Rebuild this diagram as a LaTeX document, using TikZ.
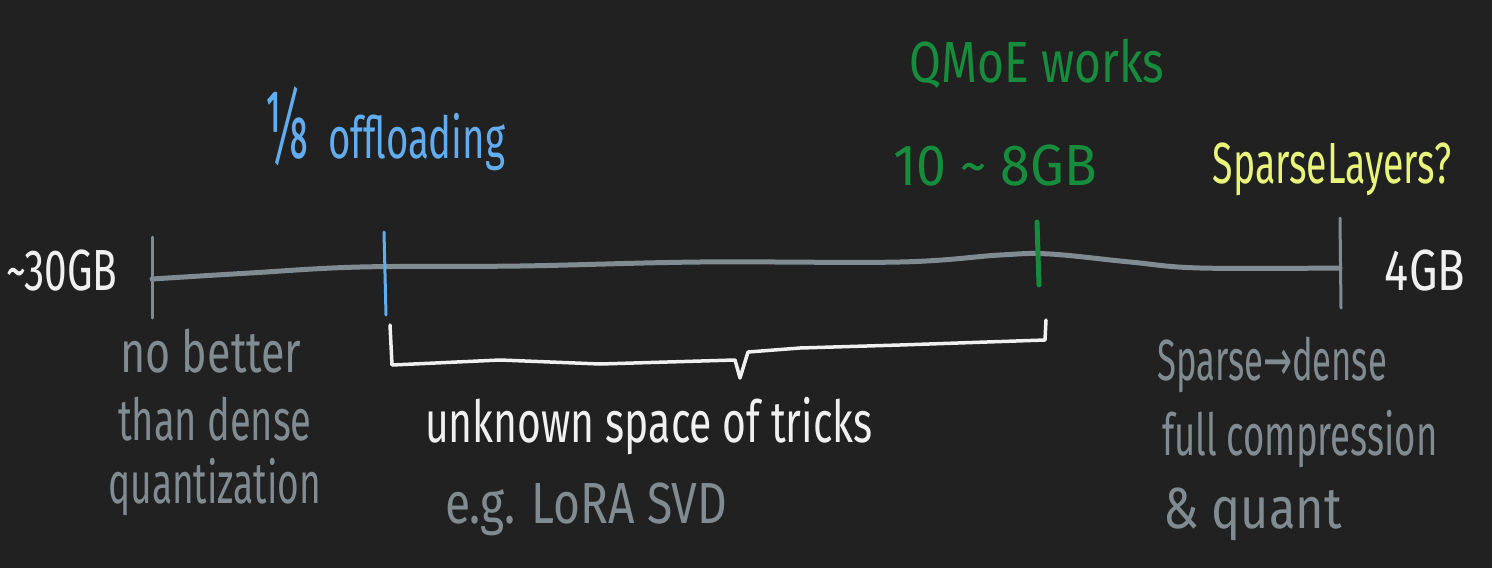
\documentclass[tikz,border=0pt]{standalone}
\usepackage{graphicx}
\usepackage{fontspec}
\setmainfont{Fira Sans}[FakeStretch=0.78]
\newfontfamily\djv{DejaVu Sans}[FakeStretch=0.78]
\newfontfamily\fracfont{Fira Sans}[Fractions=On]
\definecolor{bg}{RGB}{33,33,33}
\definecolor{axis}{RGB}{128,140,146}
\definecolor{hblue}{RGB}{98,172,240}
\definecolor{hgreen}{RGB}{22,140,60}
\definecolor{hyellow}{RGB}{232,244,122}
\definecolor{hwhite}{RGB}{240,240,240}
\newcommand{\hs}[3][1.45]{\scalebox{#2}[#1]{#3}}
\newcommand{\tld}{\textasciitilde}
\tikzset{
  hand/.style={inner sep=0pt, font=\fontsize{40}{66}\selectfont},
  tick/.style={line width=3pt, line cap=round},
  axisline/.style={draw=axis, line width=5pt, line cap=round, line join=round},
}
\begin{document}
\begin{tikzpicture}[x=1pt,y=-1pt]
\fill[bg] (0,0) rectangle (1492,568);
\useasboundingbox (0,0) rectangle (1492,568);
% tick ends
\coordinate (t0a) at (152,237); \coordinate (t0b) at (152,318);
\coordinate (t1a) at (384,232); \coordinate (t1b) at (386,315);
\coordinate (t2a) at (1037,222); \coordinate (t2b) at (1039,285);
\coordinate (t3a) at (1340,218); \coordinate (t3b) at (1341,308);
\coordinate (L) at (152,279);
\coordinate (R) at (1340,268);
% axis
\draw[axisline] plot[smooth, tension=0.6] coordinates {(L) (250,273) (360,267) (520,266) (700,262) (900,262) (1000,255) (1050,254) (1130,262) (1200,268) (R)};
\draw[tick, axis] (t0a) -- (t0b);
\draw[tick, axis] (t3a) -- (t3b);
\draw[tick, hblue] (t1a) -- (t1b);
\draw[tick, hgreen, line width=5pt] (t2a) -- (t2b);
% brace
\coordinate (b0) at (390,325);
\coordinate (b1) at (1046,320);
\coordinate (bt) at (740,378);
\draw[hwhite, line width=3.5pt, line cap=round, line join=round]
  (b0) -- (392,365) -- (500,360) -- (600,364) -- (735,360) -- (bt) -- (748,352) -- (800,348) -- (900,345) -- (1045,340) -- (b1);
% labels
\node[hand, text=hwhite, anchor=base] (big) at (62,290) {\hs{1.3}{\tld30GB}};
\node[hand, text=hwhite, anchor=base] (small) at (1425,290) {\hs{1.45}{4GB}};
\node[hand, text=hblue, anchor=base west] (frac) at (264,158) {\hs[2.4]{1.2}{\fracfont 1/8}};
\node[hand, text=hblue, anchor=base west] (off) at (328,158) {\hs{1.23}{offloading}};
\node[hand, text=hgreen, anchor=base] (qmoe) at (1037,82) {\hs{1.48}{QMoE works}};
\node[hand, text=hgreen, anchor=base] (gb) at (995,185) {\hs{1.72}{10 \tld\ 8GB}};
\node[hand, text=hyellow, anchor=base] (sl) at (1332,183) {\hs{1.2}{SparseLayers?}};
\node[hand, text=axis, anchor=base west] (nob1) at (120,372) {\hs{1.38}{no better}};
\node[hand, text=axis, anchor=base west] (nob2) at (118,440) {\hs{1.22}{than dense}};
\node[hand, text=axis, anchor=base west] (nob3) at (108,503) {\hs{1.19}{quantization}};
\node[hand, text=hwhite, anchor=base west] (unk) at (425,442) {\hs{1.31}{unknown space of tricks}};
\node[hand, text=axis, anchor=base west] (eg) at (445,523) {\hs{1.48}{e.g. LoRA SVD}};
\node[hand, text=axis, anchor=base west] (sp1) at (1157,380) {\hs{1.11}{Sparse{\djv →}dense}};
\node[hand, text=axis, anchor=base west] (sp2) at (1162,455) {\hs{1.17}{full compression}};
\node[hand, text=axis, anchor=base west] (sp3) at (1163,528) {\hs{1.56}{\& quant}};
\end{tikzpicture}
\end{document}
